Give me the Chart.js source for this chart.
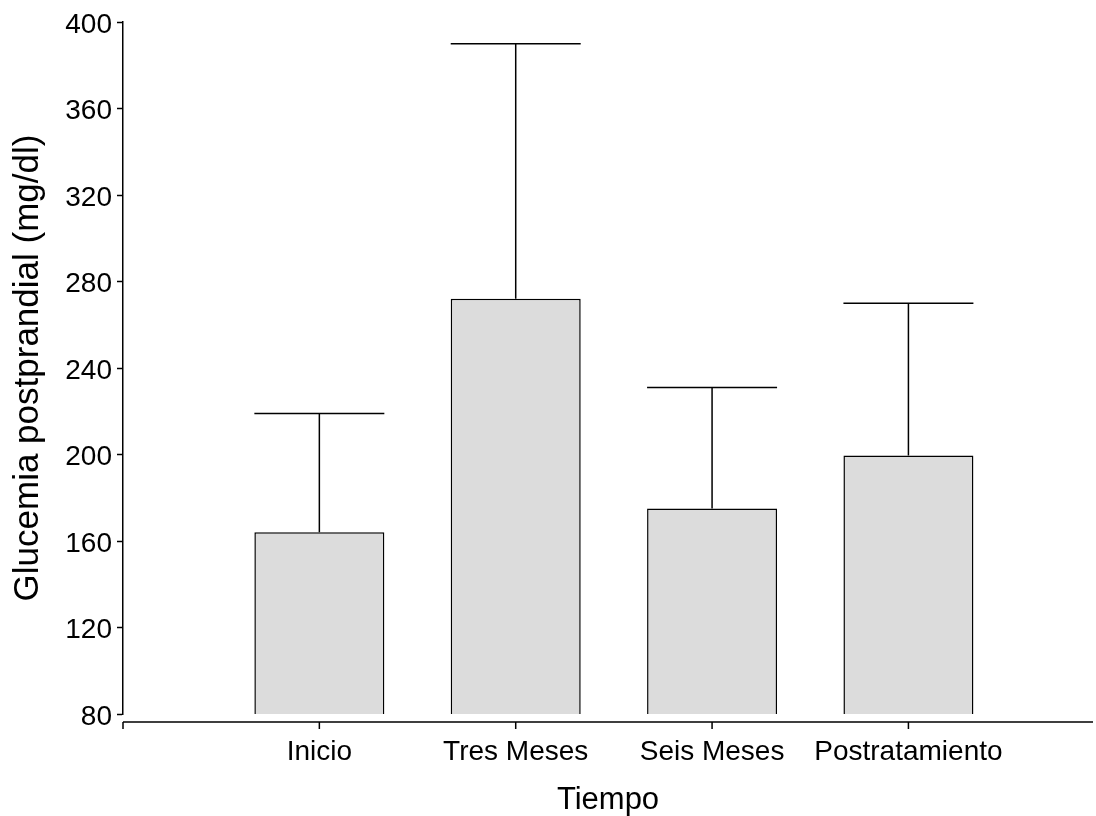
<!DOCTYPE html>
<html>
<head>
<meta charset="utf-8">
<script src="https://cdn.jsdelivr.net/npm/chart.js@4"></script>
<style>
  body { margin: 0; background: #fff; }
  #wrap { width: 1096px; height: 816px; }
</style>
</head>
<body>
<div id="wrap"><canvas id="glucemiaChart" width="1096" height="816"></canvas></div>
<script>
// data
const categories = ["Inicio", "Tres Meses", "Seis Meses", "Postratamiento"];
const meanValues = [164, 272, 175, 199.5];
const upperValues = [219, 390, 231, 270];
const yTicks = [80, 120, 160, 200, 240, 280, 320, 360, 400];

const FONT = "'Liberation Sans', Arial, sans-serif";

// error bars (upper only) and the detached x axis line with its ticks
const errorBars = {
    id: "errorBars",
    afterDatasetsDraw(chart) {
        const { ctx, chartArea, scales: { x, y } } = chart;
        const meta = chart.getDatasetMeta(0);
        ctx.save();
        ctx.strokeStyle = "#000";
        ctx.lineWidth = 1.5;
        meta.data.forEach((bar, i) => {
            const top = y.getPixelForValue(upperValues[i]);
            const half = bar.width / 2;
            ctx.beginPath();
            ctx.moveTo(bar.x, bar.y);
            ctx.lineTo(bar.x, top);
            ctx.moveTo(bar.x - half, top);
            ctx.lineTo(bar.x + half, top);
            ctx.stroke();
        });

        const ay = chartArea.bottom + 8;
        ctx.beginPath();
        ctx.moveTo(chartArea.left, ay);
        ctx.lineTo(chartArea.right, ay);
        [0, ...categories.map((c, i) => i + 1)].forEach(v => {
            const px = x.getPixelForValue(v);
            ctx.moveTo(px, ay);
            ctx.lineTo(px, ay + 7);
        });
        ctx.stroke();
        ctx.restore();
    }
};

new Chart(document.getElementById("glucemiaChart"), {
    type: "bar",
    data: {
        datasets: [{
            data: meanValues.map((v, i) => ({ x: i + 1, y: v })),
            backgroundColor: "#dcdcdc",
            borderColor: "#000",
            borderWidth: 1.5,
            barPercentage: 0.662,
            categoryPercentage: 1
        }]
    },
    options: {
        responsive: false,
        animation: false,
        layout: { padding: { top: 22, right: 3, left: 0, bottom: 0 } },
        plugins: {
            legend: { display: false },
            tooltip: { enabled: false }
        },
        scales: {
            x: {
                type: "linear",
                offset: false,
                min: 0,
                max: 4.94,
                grid: { display: false, offset: false },
                border: { display: false },
                afterFit(scale) { scale.height = 102; },
                afterBuildTicks(scale) {
                    scale.ticks = categories.map((c, i) => ({ value: i + 1 }));
                },
                ticks: {
                    autoSkip: false,
                    maxRotation: 0,
                    padding: 13,
                    color: "#000",
                    font: { family: FONT, size: 28 },
                    callback: v => categories[v - 1]
                },
                title: {
                    display: true,
                    text: "Tiempo",
                    color: "#000",
                    font: { family: FONT, size: 31, lineHeight: 1 },
                    padding: { top: 0, bottom: 0 }
                }
            },
            y: {
                min: yTicks[0],
                max: yTicks[yTicks.length - 1],
                afterFit(scale) { scale.width = 123; },
                afterBuildTicks(scale) {
                    scale.ticks = yTicks.map(v => ({ value: v }));
                },
                grid: {
                    drawOnChartArea: false,
                    drawTicks: true,
                    tickLength: 6,
                    tickColor: "#000",
                    tickWidth: 1.5
                },
                border: { display: true, color: "#000", width: 1.5 },
                ticks: {
                    padding: 5,
                    labelOffset: 3,
                    color: "#000",
                    font: { family: FONT, size: 28 }
                },
                title: {
                    display: true,
                    text: "Glucemia postprandial (mg/dl)",
                    color: "#000",
                    font: { family: FONT, size: 35, lineHeight: 1.2 },
                    padding: { top: 7, bottom: 0 }
                }
            }
        }
    },
    plugins: [errorBars]
});
</script>
</body>
</html>
